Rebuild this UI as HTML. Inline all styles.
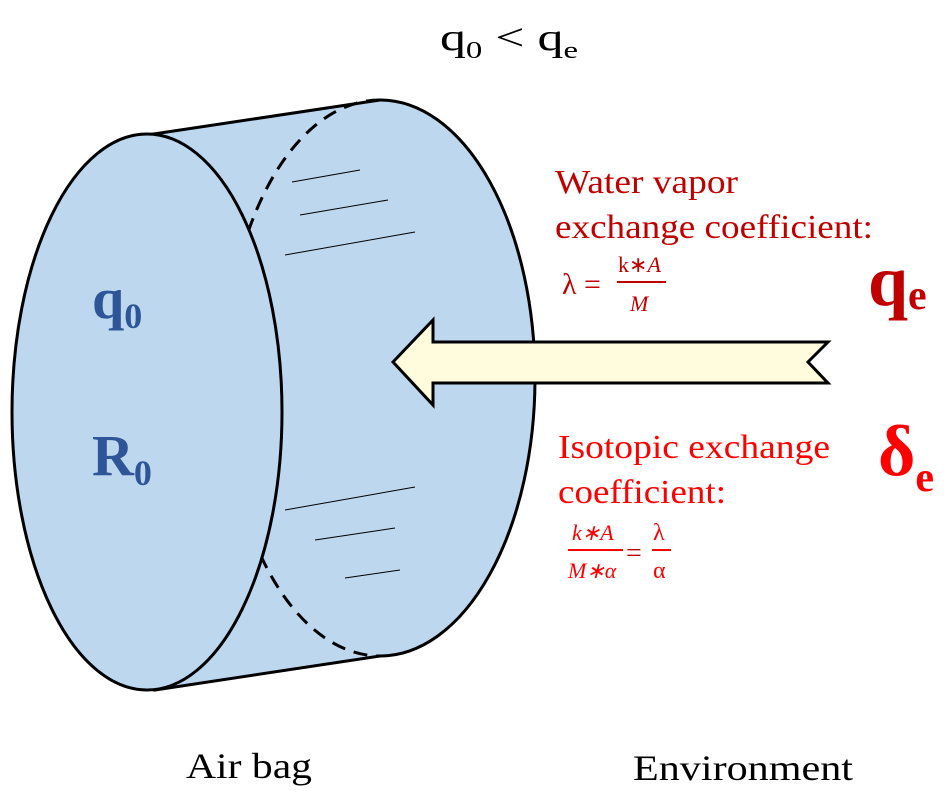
<!DOCTYPE html>
<html><head><style>
body{margin:0;width:946px;height:794px;background:#fff;overflow:hidden}
</style></head><body>
<svg width="946" height="794" xmlns="http://www.w3.org/2000/svg" font-family="Liberation Serif, serif">
<path d="M147,135 L380,100 A155,278 0 0 1 380,656 L155,690 Z" fill="#bdd7ee" stroke="#000" stroke-width="3"/>
<path d="M380,100 A155,278 0 0 0 380,656" fill="none" stroke="#000" stroke-width="3" stroke-dasharray="14,9"/>
<ellipse cx="147" cy="412" rx="135" ry="278" fill="#bdd7ee" stroke="#000" stroke-width="3"/>
<g stroke="#000" stroke-width="1">
<line x1="292" y1="182" x2="360" y2="170"/><line x1="300" y1="215" x2="388" y2="200"/><line x1="285" y1="255" x2="415" y2="232"/>
<line x1="285" y1="510" x2="415" y2="487"/><line x1="315" y1="540" x2="395" y2="528"/><line x1="345" y1="578" x2="400" y2="570"/>
</g>
<polygon points="393,362 433,320 433,342 828,342 808,362 828,383 433,383 433,405" fill="#fffbdc" stroke="#000" stroke-width="3" stroke-linejoin="miter"/>
<text x="440" y="50" font-size="38" textLength="138" lengthAdjust="spacingAndGlyphs">q<tspan font-size="24" dy="8">0</tspan><tspan dy="-8"> &lt; q</tspan><tspan font-size="24" dy="8">e</tspan></text>
<text x="92" y="318" font-size="58" font-weight="bold" fill="#2e5597">q<tspan font-size="36" dy="10">0</tspan></text>
<text x="92" y="475" font-size="58" font-weight="bold" fill="#2e5597">R<tspan font-size="36" dy="10">0</tspan></text>
<g fill="#c00000" font-size="34">
<text x="555" y="193" textLength="183" lengthAdjust="spacingAndGlyphs">Water vapor</text>
<text x="555" y="238" textLength="318" lengthAdjust="spacingAndGlyphs">exchange coefficient:</text>
<text x="562" y="294" font-size="30">λ =</text>
<text x="618" y="272" font-size="22">k∗<tspan font-style="italic">A</tspan></text>
<line x1="617" y1="282" x2="666" y2="282" stroke="#c00000" stroke-width="2"/>
<text x="630" y="311" font-size="22" font-style="italic">M</text>
<text x="868" y="305" font-size="72" font-weight="bold">q<tspan font-size="42" dy="4">e</tspan></text>
<text x="558" y="458" fill="#ff0000" textLength="272" lengthAdjust="spacingAndGlyphs">Isotopic exchange</text>
<text x="558" y="503" fill="#ff0000" textLength="168" lengthAdjust="spacingAndGlyphs">coefficient:</text>
<text x="572" y="540" font-size="22" font-style="italic" fill="#ff0000">k∗A</text>
<line x1="568" y1="550" x2="623" y2="550" stroke="#ff0000" stroke-width="2"/>
<text x="568" y="578" font-size="22" font-style="italic" fill="#ff0000">M∗α</text>
<text x="626" y="562" font-size="28">=</text>
<text x="653" y="540" font-size="24" fill="#ff0000">λ</text>
<line x1="652" y1="550" x2="671" y2="550" stroke="#ff0000" stroke-width="2"/>
<text x="653" y="578" font-size="24" fill="#ff0000">α</text>
<text x="878" y="475" font-size="72" font-weight="bold" fill="#ff0000">δ<tspan font-size="42" dy="16">e</tspan></text>
</g>
<text x="186" y="778" font-size="36" textLength="126" lengthAdjust="spacingAndGlyphs">Air bag</text>
<text x="633" y="780" font-size="36" textLength="220" lengthAdjust="spacingAndGlyphs">Environment</text>
</svg>
</body></html>
